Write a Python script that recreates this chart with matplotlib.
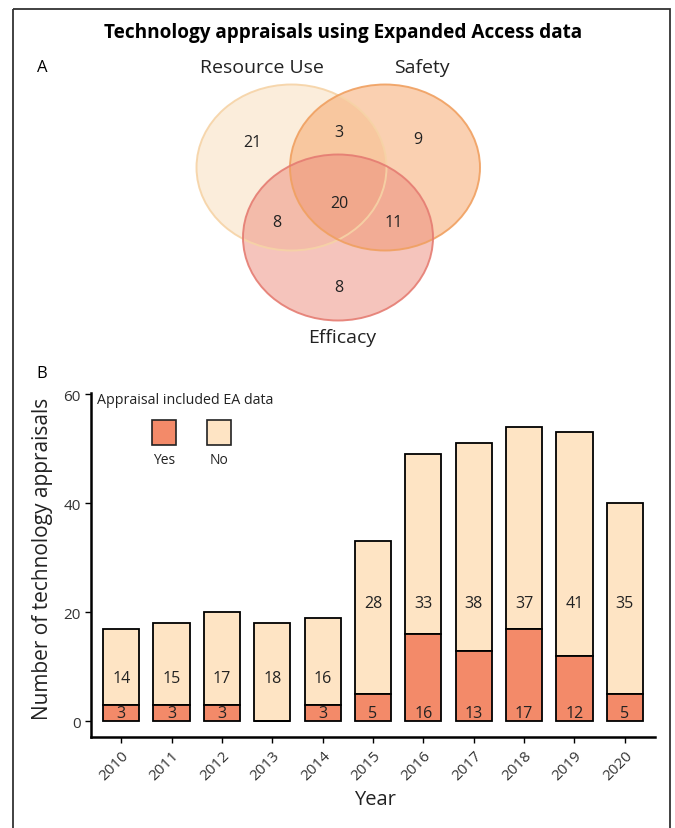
import matplotlib.pyplot as plt
from matplotlib.patches import Ellipse, Rectangle
import numpy as np

plt.rcParams['font.family'] = ['Open Sans', 'DejaVu Sans']

# Panel A: Venn counts
venn_sets = ["Resource Use", "Safety", "Efficacy"]
venn_counts = {"RU": 21, "S": 9, "E": 8, "RU_S": 3, "RU_E": 8, "S_E": 11, "ALL": 20}

# Panel B: appraisals per year
years = ["2010", "2011", "2012", "2013", "2014", "2015", "2016", "2017", "2018", "2019", "2020"]
ea_yes = [3, 3, 3, 0, 3, 5, 16, 13, 17, 12, 5]
ea_no = [14, 15, 17, 18, 16, 28, 33, 38, 37, 41, 35]

YES_COL = "#F38A69"
NO_COL = "#FEE4C4"
TXT = "#222222"

W, H = 675, 829
fig = plt.figure(figsize=(W / 100, H / 100), dpi=100)

# overlay in pixel coordinates
ov = fig.add_axes([0, 0, 1, 1])
ov.set_xlim(0, W)
ov.set_ylim(H, 0)
ov.axis('off')

ov.add_patch(Rectangle((13, 10), 657, 840, fill=False, ec="#333333", lw=1.3, clip_on=False))

ov.text(343, 33, "Technology appraisals using Expanded Access data", ha='center', va='center',
        fontsize=13.7, fontweight='bold', color='black')
ov.text(42, 68, "A", ha='center', va='center', fontsize=12)
ov.text(42, 374, "B", ha='center', va='center', fontsize=12)

# Venn circles
circles = [
    ((291.5, 168.5), "#F9DDB9", "#F6D3A6"),
    ((385, 168.5), "#F6A265", "#F0A060"),
    ((338, 238.5), "#EC8A7A", "#E57C72"),
]
for (c, fc, ec) in circles:
    ov.add_patch(Ellipse(c, 190, 166, fc=fc, alpha=0.5, ec='none'))
for (c, fc, ec) in circles:
    ov.add_patch(Ellipse(c, 190, 166, fill=False, ec=ec, lw=1.4, alpha=0.9))

ov.text(262, 68, venn_sets[0], ha='center', va='center', fontsize=14, color=TXT)
ov.text(422, 68, venn_sets[1], ha='center', va='center', fontsize=14, color=TXT)
ov.text(342, 338, venn_sets[2], ha='center', va='center', fontsize=14, color=TXT)

venn_pos = {"RU": (252, 143), "S": (418, 140), "E": (339, 288), "RU_S": (339, 133),
            "RU_E": (277, 223), "S_E": (394, 223), "ALL": (339, 204)}
for k, v in venn_counts.items():
    x, y = venn_pos[k]
    ov.text(x, y, str(v), ha='center', va='center', fontsize=11.5, color=TXT)

# Legend (manual, labels under keys)
ov.text(97, 401, "Appraisal included EA data", ha='left', va='center', fontsize=10.3, color=TXT)
for cx, col, lab in [(164, YES_COL, "Yes"), (219, NO_COL, "No")]:
    ov.add_patch(Rectangle((cx - 12, 421), 24, 25, fc=col, ec='#222222', lw=1.2))
    ov.text(cx, 461, lab, ha='center', va='center', fontsize=10, color=TXT)

# Panel B bar chart
ax = fig.add_axes([91 / W, (H - 738) / H, (655 - 91) / W, (738 - 394) / H])
x = np.arange(len(years))
ax.bar(x, ea_yes, width=0.72, color=YES_COL, edgecolor='black', lw=1.3, zorder=3)
ax.bar(x, ea_no, bottom=ea_yes, width=0.72, color=NO_COL, edgecolor='black', lw=1.3, zorder=2)

totals = [a + b for a, b in zip(ea_yes, ea_no)]
for i in range(len(years)):
    if ea_yes[i] > 0:
        ax.text(x[i], 1.5, str(ea_yes[i]), ha='center', va='center', fontsize=11.5, color=TXT, zorder=4)
    ny = 7.9 if totals[i] < 25 else 21.7
    ax.text(x[i], ny, str(ea_no[i]), ha='center', va='center', fontsize=11.5, color=TXT, zorder=4)

ax.set_xlim(-0.6, 10.6)
ax.set_ylim(-2.85, 60.2)
ax.set_yticks([0, 20, 40, 60])
ax.set_xticks(x)
ax.set_xticklabels(years, rotation=45, ha='right', rotation_mode='anchor')
ax.tick_params(axis='both', labelsize=11, colors='black', width=1.0, length=4, labelcolor='#333333')
for s in ['top', 'right']:
    ax.spines[s].set_visible(False)
for s in ['left', 'bottom']:
    ax.spines[s].set_linewidth(1.8)
ax.set_facecolor('none')
ax.set_ylabel("Number of technology appraisals", fontsize=15, color=TXT)
ax.set_xlabel("Year", fontsize=14.5, color=TXT)
ax.yaxis.set_label_coords((53 - 91) / (655 - 91), (829 - 559 - (829 - 738)) / (738 - 394))
ax.xaxis.set_label_coords((375 - 91) / (655 - 91), -(790 - 738) / (738 - 394))

fig.savefig("out.png", dpi=100)
